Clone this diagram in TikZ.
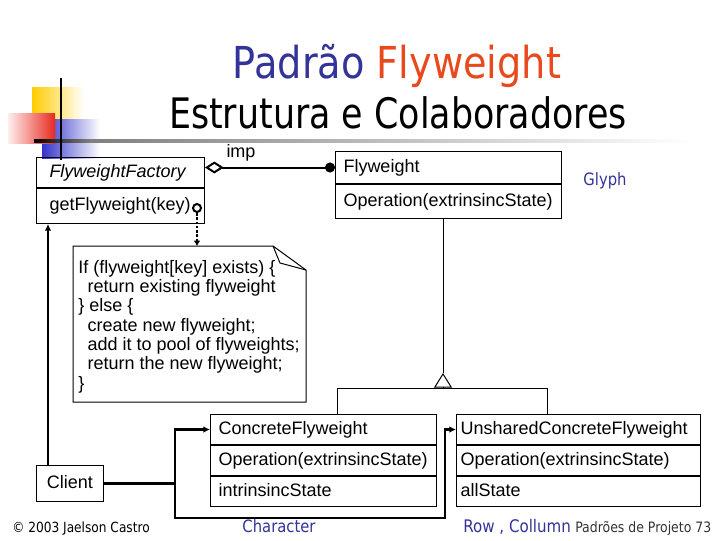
\documentclass[tikz,border=0pt]{standalone}
\usepackage{fontspec}
\setmainfont{Liberation Sans}
\newfontfamily\slidefont[FakeStretch=0.87]{DejaVu Sans}
\newfontfamily\subfont[FakeStretch=0.83]{DejaVu Sans}
\usetikzlibrary{arrows.meta,calc,positioning}
\definecolor{slideblue}{HTML}{333399}
\definecolor{slidered}{HTML}{E8491D}
\definecolor{decoyellow}{HTML}{FFCC00}
\definecolor{decored}{HTML}{E82A1E}
\definecolor{decoblue}{HTML}{3333CC}
\newcommand\umlsize{\fontsize{13.5}{15}\selectfont}

\begin{document}
\begin{tikzpicture}[x=0.75pt, y=-0.75pt,
	cell/.style={draw, line width=0.75pt, inner xsep=6pt, inner ysep=0pt,
			text height=10pt, text depth=3pt, align=left, font=\umlsize},
	link/.style={line width=2pt, -{Latex[length=5pt,width=5pt]}},
	uml/.style={line width=0.75pt}]

	\fill[white] (0,0) rectangle (720,540);
	\useasboundingbox (0,0) rectangle (720,540);

	% ---- decorazione ----
	\shade[left color=decoyellow, middle color=decoyellow, right color=white] (32,87) rectangle (84,119);
	\shade[left color=decoblue, middle color=decoblue, right color=white] (42,119) rectangle (100,158);
	\shade[left color=decored!8, right color=decored] (8,113) rectangle (55,143);
	\shade[left color=black, right color=black!50] (34,139.5) rectangle (90,142.5);
	\shade[left color=black!50, right color=white] (90,139.5) rectangle (690,142.5);
	\draw[line width=2pt] (61,78) -- (61,160);

	% ---- titolo ----
	\node[anchor=base, font=\slidefont\fontsize{33}{36}\selectfont] (title) at (397,78)
	{\textcolor{slideblue}{Padrão} \textcolor{slidered}{Flyweight}};
	\node[anchor=base, font=\subfont\fontsize{31.5}{34}\selectfont] (subtitle) at (398,128)
	{Estrutura e Colaboradores};

	% ---- classi ----
	\node[cell, anchor=north west, text width=106.5pt, inner xsep=9.75pt, minimum height=22.5pt,
		font=\umlsize\itshape] (facname) at (36,157) {FlyweightFactory};
	\node[cell, text width=106.5pt, inner xsep=9.75pt, minimum height=26.25pt,
		below=0pt of facname] (facop) {getFlyweight(key)};

	\node[cell, anchor=north west, text width=157.5pt, minimum height=24pt] (flyname) at (335,151) {Flyweight};
	\node[cell, text width=157.5pt, minimum height=25.5pt, below=0pt of flyname] (flyop) {Operation(extrinsincState)};

	\node[cell, anchor=north west, text width=157.5pt, minimum height=22.5pt] (cfname) at (210,414) {ConcreteFlyweight};
	\node[cell, text width=157.5pt, minimum height=22.5pt, below=0pt of cfname] (cfop) {Operation(extrinsincState)};
	\node[cell, text width=157.5pt, minimum height=22.5pt, below=0pt of cfop] (cfstate) {intrinsincState};

	\node[cell, anchor=north west, text width=177pt, inner xsep=3pt, minimum height=22.5pt] (usname) at (456,414) {UnsharedConcreteFlyweight};
	\node[cell, text width=177pt, inner xsep=3pt, minimum height=22.5pt, below=0pt of usname] (usop) {Operation(extrinsincState)};
	\node[cell, text width=177pt, inner xsep=3pt, minimum height=22.5pt, below=0pt of usop] (usstate) {allState};

	\node[cell, anchor=north west, align=center, inner xsep=3pt, minimum width=50.25pt, minimum height=27pt] (client) at (36,465) {Client};

	% ---- nota ----
	\node[anchor=north west, inner sep=0pt, outer sep=0pt, minimum width=174.75pt, minimum height=117pt] (note) at (73,246) {};
	\draw[uml] (note.north west) -- ($(note.north east)+(-33,0)$) -- ($(note.north east)+(0,24)$)
	-- (note.south east) -- (note.south west) -- cycle;
	\draw[uml] ($(note.north east)+(-33,0)$) -- ($(note.north east)+(-26,17)$) -- ($(note.north east)+(0,24)$);
	\node[anchor=north west, align=left, inner sep=0pt, font=\fontsize{13.5}{14.5}\selectfont] (code)
	at ($(note.north west)+(5,14)$)
	{If (flyweight[key] exists) \{\\
		\hspace*{7pt}return existing flyweight\\
		\} else \{\\
		\hspace*{7pt}create new flyweight;\\
		\hspace*{7pt}add it to pool of flyweights;\\
		\hspace*{7pt}return the new flyweight;\\
		\}};

	% ---- associazione imp ----
	\draw[line width=1.5pt, {Diamond[open,length=14pt,width=9pt]}-{Circle[length=7.5pt]}]
	(facname.east |- flyname.west) -- (flyname.west);
	\node[anchor=base, font=\umlsize] (imp) at (241,157) {imp};

	% ---- getFlyweight -> nota ----
	\node[circle, draw, line width=1.5pt, minimum size=6pt, inner sep=0pt] (knob) at (197,208) {};
	\draw[line width=2.2pt, dash pattern=on 2pt off 1.2pt, -{Latex[length=4pt,width=5pt]}]
	(knob.south) -- (knob |- note.north);

	% ---- ereditarieta' ----
	\coordinate (apex) at (443,373);
	\coordinate (gen) at (443,388);
	\draw[uml] (flyop.south -| apex) -- (apex);
	\draw[uml, -{Triangle[open,length=11pt,width=13.5pt]}] (gen) -- (apex);
	\draw[uml] ($(cfname.north west)+(127,0)$) |- (gen) -| ($(usname.north west)+(91,0)$);

	% ---- client ----
	\coordinate (up) at ($(client.north west)+(12,0)$);
	\draw[link] (up) -- (up |- facop.south);
	\coordinate (split) at ($(client.east)+(71,0)$);
	\coordinate (turn) at ($(usname.west)+(-11,0)$);
	\draw[link] (client.east) -- (split) |- (cfname.west);
	\draw[link] (split) |- ($(cfstate.south)+(0,11)$) -| (turn) -- (usname.west);

	% ---- etichette ----
	\node[anchor=base, font=\slidefont\fontsize{12.75}{14}\selectfont, text=slideblue] (glyph) at (605,185) {Glyph};
	\node[anchor=base, font=\slidefont\fontsize{12.75}{14}\selectfont, text=slideblue] (character) at (279,532) {Character};
	\node[anchor=base west, inner sep=0pt, font=\slidefont\fontsize{13}{14}\selectfont, text=slideblue] (rowcol) at (463,532) {Row , Collumn};
	\node[anchor=base west, inner sep=0pt, font=\slidefont\fontsize{10.75}{12}\selectfont, text=black!80] (footer) at (575,532) {Padrões de Projeto 73};
	\node[anchor=base west, inner sep=0pt, font=\slidefont\fontsize{10.5}{12}\selectfont] (author) at (12,532) {© 2003 Jaelson Castro};

\end{tikzpicture}
\end{document}
